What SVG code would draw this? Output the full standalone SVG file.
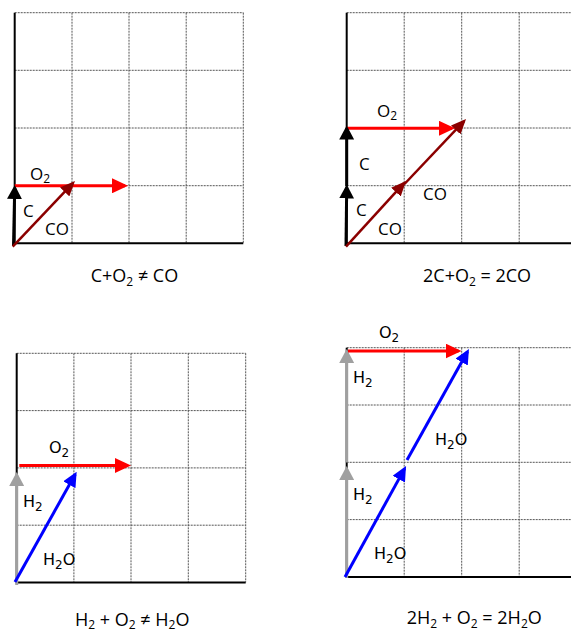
<svg xmlns="http://www.w3.org/2000/svg" width="571" height="633" viewBox="0 0 571 633">
<style>
.grid{stroke:#555;stroke-width:1;stroke-dasharray:2 1;fill:none}
.axis{stroke:#000;stroke-width:2;fill:none}
.lbl{font-family:"Open Sans","Liberation Sans",sans-serif;font-size:17px;fill:#000}
.lbl2{font-family:"DejaVu Sans","Liberation Sans",sans-serif;font-size:16px;fill:#000}
.cap{font-family:"Open Sans","Liberation Sans",sans-serif;font-size:18px;fill:#000}
.a{fill:none;stroke-width:3}
.red{stroke:#ff0000;marker-end:url(#mRed)}
.blk{stroke:#000;marker-end:url(#mBlk)}
.co{stroke:#8b0000;stroke-width:2.5;marker-end:url(#mCo)}
.blu{stroke:#0000ff;marker-end:url(#mBlu)}
.gry{stroke:#a0a0a0;marker-end:url(#mGry)}
</style>
<defs>
<marker id="mRed" markerUnits="userSpaceOnUse" markerWidth="16" markerHeight="15" refX="13" refY="7.5" orient="auto"><path d="M0,0 L16,7.5 L0,15 z" fill="#ff0000"/></marker>
<marker id="mBlk" markerUnits="userSpaceOnUse" markerWidth="14" markerHeight="15" refX="11" refY="7.5" orient="auto"><path d="M0,0 L14,7.5 L0,15 z" fill="#000"/></marker>
<marker id="mCo" markerUnits="userSpaceOnUse" markerWidth="15" markerHeight="13" refX="12" refY="6.5" orient="auto"><path d="M0,0 L15,6.5 L0,13 z" fill="#8b0000"/></marker>
<marker id="mBlu" markerUnits="userSpaceOnUse" markerWidth="15" markerHeight="14" refX="12" refY="7" orient="auto"><path d="M0,0 L15,7 L0,14 z" fill="#0000ff"/></marker>
<marker id="mGry" markerUnits="userSpaceOnUse" markerWidth="14" markerHeight="15" refX="11" refY="7.5" orient="auto"><path d="M0,0 L14,7.5 L0,15 z" fill="#a0a0a0"/></marker>
</defs>

<!-- Panel 1 -->
<g id="panel1">
<g class="grid">
<path d="M14.7,12.7 H243.3 M14.7,70.3 H243.3 M14.7,128 H243.3 M14.7,185.7 H243.3 M72,12.7 V243.3 M129,12.7 V243.3 M186.2,12.7 V243.3 M243.3,12.7 V243.3"/>
</g>
<path class="axis" d="M14.7,12.7 V243.3 H243.3"/>
<g id="p1-connectors">
<path class="a red" d="M14.7,185.8 H125"/>
<path class="a blk" d="M13.5,246 L14.7,188"/>
<path class="a co" d="M12.7,246.7 L72.9,183.2"/>
</g>
<g id="p1-labels">
<text class="lbl" x="30" y="180">O<tspan font-size="12" dy="3">2</tspan></text>
<text class="lbl" x="23" y="217">C</text>
<text class="lbl" x="45" y="235">CO</text>
</g>
<text class="cap" x="90.7" y="282">C+O<tspan font-size="12" dy="4">2</tspan><tspan dy="-4"> ≠ CO</tspan></text>
</g>

<!-- Panel 2 -->
<g id="panel2">
<g class="grid">
<path d="M346.7,12.7 H571 M346.7,70.3 H571 M346.7,128 H571 M346.7,185.7 H571 M404.2,12.7 V243.3 M461.7,12.7 V243.3 M519.2,12.7 V243.3"/>
</g>
<path class="axis" d="M346.7,12.7 V243.3 H571"/>
<g id="p2-connectors">
<path class="a red" d="M346.7,128.3 H452"/>
<path class="a blk" d="M346,246 L346.7,187.5"/>
<path class="a blk" d="M346.7,186 V128.5"/>
<path class="a co" d="M346,246.7 L404,183.2"/>
<path class="a co" d="M404.5,184 L464,121.2"/>
</g>
<g id="p2-labels">
<text class="lbl" x="377" y="117">O<tspan font-size="12" dy="3">2</tspan></text>
<text class="lbl" x="359" y="170">C</text>
<text class="lbl" x="356" y="216">C</text>
<text class="lbl" x="423" y="200">CO</text>
<text class="lbl" x="378" y="235">CO</text>
</g>
<text class="cap" x="423" y="282">2C+O<tspan font-size="12" dy="4">2</tspan><tspan dy="-4"> = 2CO</tspan></text>
</g>

<!-- Panel 3 -->
<g id="panel3">
<g class="grid">
<path d="M16.7,353.3 H245.7 M16.7,410.6 H245.7 M16.7,467.9 H245.7 M16.7,525.2 H245.7 M73.9,353.3 V582.4 M131,353.3 V582.4 M188.3,353.3 V582.4 M245.7,353.3 V582.4"/>
</g>
<path class="axis" d="M16.7,353.3 V582.4 H245.7"/>
<g id="p3-connectors">
<path class="a gry" d="M16.7,585 V475"/>
<path class="a red" d="M19.3,465.5 H128"/>
<path class="a blu" d="M15,582 L75.2,474.3"/>
</g>
<g id="p3-labels">
<text class="lbl2" x="49" y="453">O<tspan font-size="12" dy="4">2</tspan></text>
<text class="lbl2" x="23" y="507">H<tspan font-size="12" dy="4">2</tspan></text>
<text class="lbl2" x="43" y="565">H<tspan font-size="12" dy="4">2</tspan><tspan dy="-4">O</tspan></text>
</g>
<text class="cap" x="75" y="626">H<tspan font-size="12" dy="3">2</tspan><tspan dy="-3"> + O</tspan><tspan font-size="12" dy="3">2</tspan><tspan dy="-3"> ≠ H</tspan><tspan font-size="12" dy="3">2</tspan><tspan dy="-3">O</tspan></text>
</g>

<!-- Panel 4 -->
<g id="panel4">
<g class="grid">
<path d="M346.7,347.7 H571 M346.7,405 H571 M346.7,462.3 H571 M346.7,519.6 H571 M404.2,347.7 V577 M461.7,347.7 V577 M519.2,347.7 V577"/>
</g>
<path class="axis" d="M346.7,347.7 V577 H571"/>
<g id="p4-connectors">
<path class="a gry" d="M346.7,578 V469"/>
<path class="a gry" d="M346.7,462.5 V352"/>
<path class="a red" d="M348,351 H458.5"/>
<path class="a blu" d="M345,577 L404.6,468.6"/>
<path class="a blu" d="M407,460 L467.5,351.6"/>
</g>
<g id="p4-labels">
<text class="lbl2" x="379" y="338">O<tspan font-size="12" dy="4">2</tspan></text>
<text class="lbl2" x="353" y="383">H<tspan font-size="12" dy="4">2</tspan></text>
<text class="lbl2" x="435" y="445">H<tspan font-size="12" dy="4">2</tspan><tspan dy="-4">O</tspan></text>
<text class="lbl2" x="353" y="500">H<tspan font-size="12" dy="4">2</tspan></text>
<text class="lbl2" x="374" y="559">H<tspan font-size="12" dy="4">2</tspan><tspan dy="-4">O</tspan></text>
</g>
<text class="cap" x="406.7" y="624">2H<tspan font-size="12" dy="4">2</tspan><tspan dy="-4"> + O</tspan><tspan font-size="12" dy="4">2</tspan><tspan dy="-4"> = 2H</tspan><tspan font-size="12" dy="4">2</tspan><tspan dy="-4">O</tspan></text>
</g>
</svg>
